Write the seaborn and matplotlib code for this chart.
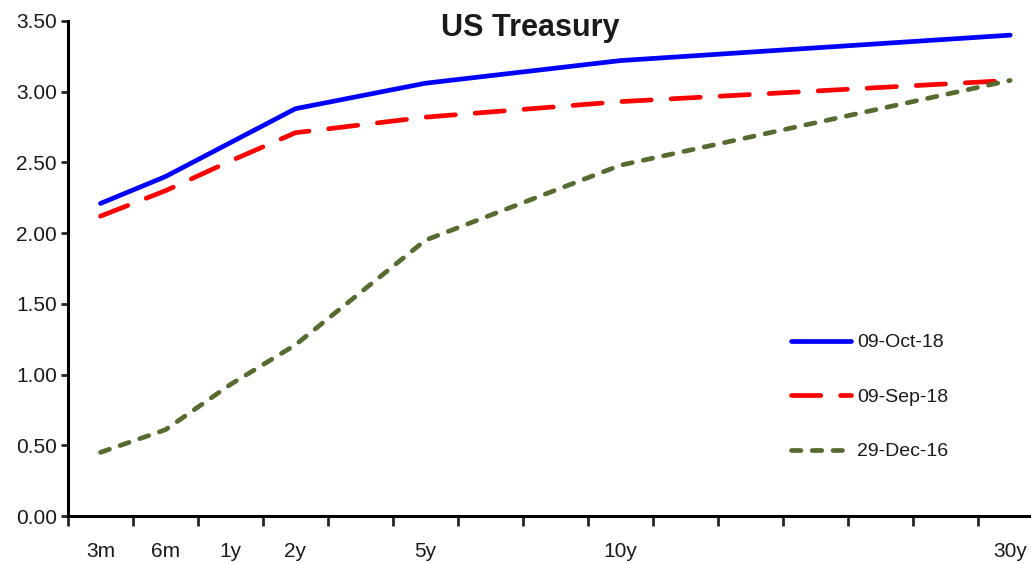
import matplotlib
matplotlib.use("Agg")
import matplotlib.pyplot as plt
import seaborn as sns
import pandas as pd

# Tenor axis (category slots, blanks are unlabelled slots)
axis_labels = ["3m", "6m", "1y", "2y", "", "5y", "", "", "10y",
               "", "", "", "", "", "30y"]
tenors = ["3m", "6m", "1y", "2y", "5y", "10y", "30y"]

dates = ["09-Oct-18", "09-Sep-18", "29-Dec-16"]
oct18 = [2.21, 2.40, 2.64, 2.88, 3.06, 3.22, 3.40]
sep18 = [2.12, 2.30, 2.51, 2.71, 2.82, 2.93, 3.08]
dec16 = [0.45, 0.61, 0.93, 1.21, 1.95, 2.48, 3.08]

colors = {"09-Oct-18": "#0000ff", "09-Sep-18": "#ff0000", "29-Dec-16": "#556b2f"}
dash_map = {"09-Oct-18": "", "09-Sep-18": (6.2, 4.2), "29-Dec-16": (2, 2.4)}

rows = []
for d, vals in zip(dates, [oct18, sep18, dec16]):
    for t, v in zip(tenors, vals):
        rows.append({"tenor": axis_labels.index(t), "yield": v, "date": d})
df = pd.DataFrame(rows)

sns.set_style("ticks")
plt.rcParams["font.family"] = ["Liberation Sans Narrow", "Liberation Sans", "DejaVu Sans"]
plt.rcParams["lines.dash_capstyle"] = "round"
plt.rcParams["lines.solid_capstyle"] = "round"
text_col = "#1a1a1a"

fig = plt.figure(figsize=(10.31, 5.63), dpi=100)
ax = fig.add_axes([68 / 1031, 47 / 563, (1031 - 68) / 1031, (516 - 21) / 563])

sns.lineplot(data=df, x="tenor", y="yield", hue="date", style="date",
             hue_order=dates, style_order=dates, palette=colors,
             dashes=dash_map, linewidth=3.4, ax=ax, clip_on=False)

ax.set_ylim(0, 3.5)
ax.set_yticks([i * 0.5 for i in range(8)])
ax.set_yticklabels([f"{i * 0.5:.2f}" for i in range(8)], fontsize=15, color=text_col)
ax.set_xlim(-0.5, 14.32)
ax.set_xticks([k - 0.5 for k in range(15)])
ax.set_xticklabels([])
ax.set_xticks(range(15), minor=True)
ax.set_xticklabels(axis_labels, minor=True, fontsize=15, color=text_col)
ax.tick_params(axis="x", which="major", length=7, width=2, direction="out")
ax.tick_params(axis="x", which="minor", length=0, pad=19)
ax.tick_params(axis="y", length=5, width=2, direction="out", pad=3)
ax.set_xlabel("")
ax.set_ylabel("")
for s in ["top", "right"]:
    ax.spines[s].set_visible(False)
for s in ["left", "bottom"]:
    ax.spines[s].set_linewidth(2.2)
    ax.spines[s].set_color("black")

ax.text(0.48, 0.985, "US Treasury", transform=ax.transAxes, ha="center",
        va="center", fontsize=22, fontweight="bold", color=text_col)

sns.move_legend(ax, loc="upper left", bbox_to_anchor=(783 / 1031, 1 - 326 / 563),
                bbox_transform=fig.transFigure, frameon=False, title=None,
                fontsize=14, handlelength=3.1, handletextpad=0.3,
                labelspacing=1.9, borderaxespad=0)
for t in ax.get_legend().get_texts():
    t.set_color(text_col)

fig.savefig("out.png", dpi=100)
